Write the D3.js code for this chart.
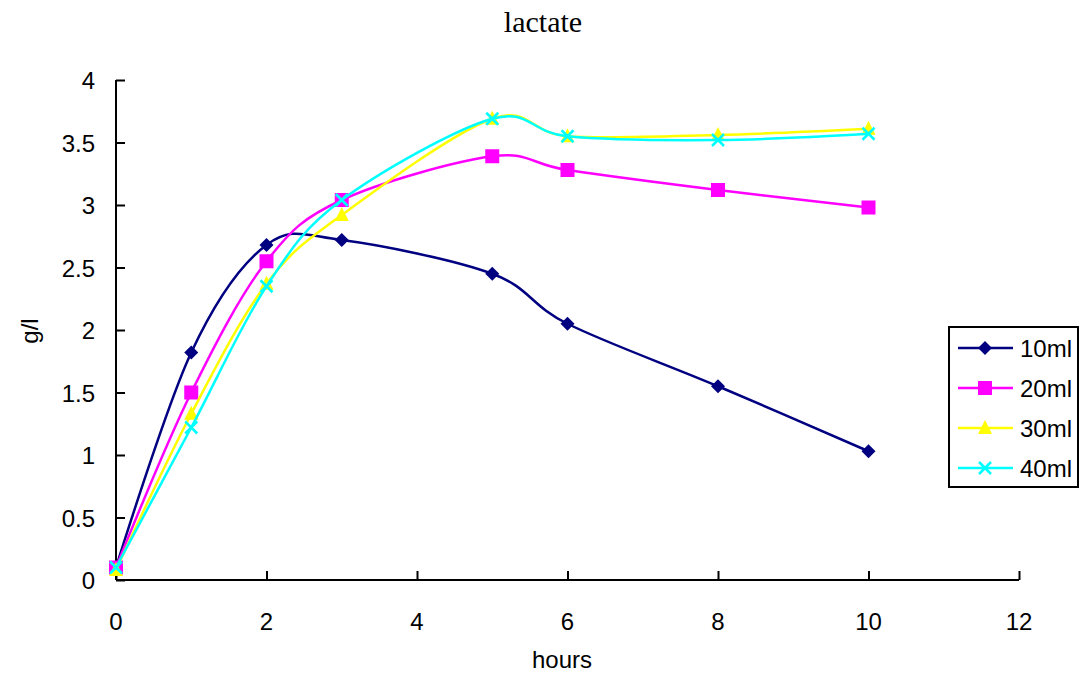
<!DOCTYPE html>
<html>
<head>
<meta charset="utf-8">
<script src="https://cdn.jsdelivr.net/npm/d3@7"></script>
<style>
  html, body { margin: 0; padding: 0; background: #fff; }
  svg { display: block; }
</style>
</head>
<body>
<svg id="chart" width="1081" height="675"></svg>
<script>
// Sampling times (hours)
const hours = [0, 1, 2, 3, 5, 6, 8, 10];

// Lactate concentration (g/l) per inoculum volume
const series10ml = [0.10, 1.82, 2.68, 2.72, 2.45, 2.05, 1.55, 1.03];
const series20ml = [0.10, 1.50, 2.55, 3.04, 3.39, 3.28, 3.12, 2.98];
const series30ml = [0.08, 1.33, 2.37, 2.92, 3.69, 3.55, 3.56, 3.61];
const series40ml = [0.10, 1.22, 2.35, 3.04, 3.69, 3.55, 3.52, 3.57];

const seriesNames = ["10ml", "20ml", "30ml", "40ml"];
const seriesColors = ["#000080", "#ff00ff", "#ffff00", "#00ffff"];
const seriesMarkers = ["diamond", "square", "triangle", "cross"];
const seriesValues = [series10ml, series20ml, series30ml, series40ml];

const xTicks = [0, 2, 4, 6, 8, 10, 12];
const yTicks = [0, 0.5, 1, 1.5, 2, 2.5, 3, 3.5, 4];

(function () {
const svg = d3.select("#chart");
const plotLeft = 116, plotRight = 1019, plotTop = 80, plotBottom = 580;

const x = d3.scaleLinear().domain([0, 12]).range([plotLeft, plotRight]);
const y = d3.scaleLinear().domain([0, 4]).range([plotBottom, plotTop]);

const font = "'Liberation Sans', Arial, sans-serif";
const fontSize = 24;

// Title
svg.append("text")
  .attr("x", 543).attr("y", 32)
  .attr("text-anchor", "middle")
  .attr("font-family", "'Liberation Serif', 'Times New Roman', serif")
  .attr("font-size", 30)
  .text("lactate");

// Axes with inward ticks
const xAxis = d3.axisTop(x).tickValues(xTicks).tickSize(9).tickFormat("");
const gx = svg.append("g").attr("transform", `translate(0,${plotBottom})`).call(xAxis);
const yAxis = d3.axisRight(y).tickValues(yTicks).tickSize(9).tickFormat("");
const gy = svg.append("g").attr("transform", `translate(${plotLeft},0)`).call(yAxis);
[gx, gy].forEach(g => {
  g.select(".domain").attr("stroke", "#000").attr("stroke-width", 2);
  g.selectAll(".tick line").attr("stroke", "#000").attr("stroke-width", 2);
});
gx.select(".domain").attr("d", `M${plotLeft},0H${plotRight}`);
gy.select(".domain").attr("d", `M0,${plotTop}V${plotBottom}`);

// Tick labels
svg.append("g").selectAll("text").data(xTicks).join("text")
  .attr("x", d => x(d)).attr("y", 630)
  .attr("text-anchor", "middle")
  .attr("font-family", font).attr("font-size", fontSize)
  .text(d => d);
svg.append("g").selectAll("text").data(yTicks).join("text")
  .attr("x", 95).attr("y", d => y(d) + 9)
  .attr("text-anchor", "end")
  .attr("font-family", font).attr("font-size", fontSize)
  .text(d => d);

// Axis titles
svg.append("text")
  .attr("x", 562).attr("y", 668)
  .attr("text-anchor", "middle")
  .attr("font-family", font).attr("font-size", fontSize)
  .text("hours");
svg.append("text")
  .attr("transform", "translate(38,331) rotate(-90)")
  .attr("text-anchor", "middle")
  .attr("font-family", font).attr("font-size", fontSize)
  .text("g/l");

// Marker drawing
function drawMarker(g, type, color, cx, cy) {
  if (type === "diamond") {
    g.append("path")
      .attr("d", `M${cx},${cy - 7}L${cx + 7},${cy}L${cx},${cy + 7}L${cx - 7},${cy}Z`)
      .attr("fill", color);
  } else if (type === "square") {
    g.append("rect")
      .attr("x", cx - 7).attr("y", cy - 7).attr("width", 14).attr("height", 14)
      .attr("fill", color);
  } else if (type === "triangle") {
    g.append("path")
      .attr("d", `M${cx},${cy - 8}L${cx + 7},${cy + 6}L${cx - 7},${cy + 6}Z`)
      .attr("fill", color);
  } else {
    g.append("path")
      .attr("d", `M${cx - 6},${cy - 6}L${cx + 6},${cy + 6}M${cx + 6},${cy - 6}L${cx - 6},${cy + 6}`)
      .attr("stroke", color).attr("stroke-width", 2.5).attr("fill", "none");
  }
}

// Smoothed series lines with markers
const line = d3.line()
  .x(d => x(d[0])).y(d => y(d[1]))
  .curve(d3.curveCatmullRom.alpha(0));

seriesValues.forEach((vals, i) => {
  const pts = hours.map((h, j) => [h, vals[j]]);
  const g = svg.append("g");
  g.append("path")
    .attr("d", line(pts))
    .attr("fill", "none")
    .attr("stroke", seriesColors[i])
    .attr("stroke-width", 2.5);
  pts.forEach(p => drawMarker(g, seriesMarkers[i], seriesColors[i], x(p[0]), y(p[1])));
});

// Legend
const lg = svg.append("g");
lg.append("rect")
  .attr("x", 949).attr("y", 327).attr("width", 129).attr("height", 160)
  .attr("fill", "#fff").attr("stroke", "#000").attr("stroke-width", 2);
seriesNames.forEach((name, i) => {
  const cy = 348 + i * 40;
  lg.append("line")
    .attr("x1", 958).attr("x2", 1013).attr("y1", cy).attr("y2", cy)
    .attr("stroke", seriesColors[i]).attr("stroke-width", 2.5);
  drawMarker(lg, seriesMarkers[i], seriesColors[i], 985, cy);
  lg.append("text")
    .attr("x", 1020).attr("y", cy + 9)
    .attr("font-family", font).attr("font-size", fontSize)
    .text(name);
});
})();
</script>
</body>
</html>
